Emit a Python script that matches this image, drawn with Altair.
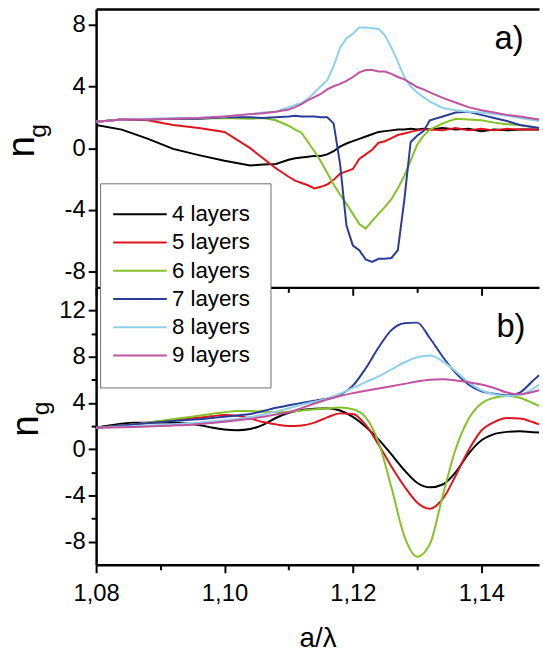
import altair as alt
import pandas as pd

series_names = ["4 layers", "5 layers", "6 layers", "7 layers", "8 layers", "9 layers"]
series_colors = ["#000000", "#e0141e", "#84c225", "#2b3c98", "#8fd0ea", "#c2529f"]
panel_labels = ["a)", "b)"]
y_title = ["n", "g"]
x_title = "a/λ"

# ---------- panel a ----------
xa = [1.080, 1.084, 1.088, 1.092, 1.096, 1.100, 1.104, 1.106, 1.108, 1.110,
      1.111, 1.112, 1.113, 1.114, 1.115, 1.116, 1.117, 1.118, 1.119, 1.120,
      1.121, 1.122, 1.123, 1.124, 1.125, 1.126, 1.127, 1.128, 1.129, 1.130,
      1.131, 1.132, 1.134, 1.136, 1.138, 1.140, 1.142, 1.144, 1.146, 1.149]
a_4 = [1.5, 1.2, 0.62, -0.05, -0.45, -0.82, -1.12, -1.05, -1.02, -0.75,
       -0.65, -0.6, -0.55, -0.5, -0.5, -0.4, -0.2, 0.1, 0.3, 0.45,
       0.6, 0.75, 0.9, 1.05, 1.1, 1.15, 1.2, 1.2, 1.25, 1.2,
       1.25, 1.2, 1.3, 1.2, 1.25, 1.1, 1.2, 1.15, 1.2, 1.2]
a_5 = [1.7, 1.85, 1.8, 1.5, 1.3, 1.05, 0.0, -0.65, -1.3, -1.85,
       -2.1, -2.25, -2.4, -2.6, -2.5, -2.35, -2.05, -1.65, -1.5, -1.35,
       -0.7, -0.4, -0.1, 0.35, 0.45, 0.65, 0.85, 0.95, 1.05, 1.15,
       1.2, 1.2, 1.15, 1.3, 1.15, 1.25, 1.15, 1.25, 1.2, 1.2]
a_6 = [1.7, 1.85, 1.85, 1.9, 1.9, 1.95, 1.9, 1.95, 1.8, 1.45,
       1.2, 1.0, 0.4, -0.2, -0.85, -1.6, -2.35, -3.0, -3.6, -4.25,
       -4.9, -5.2, -4.7, -4.25, -3.8, -3.3, -2.6, -1.8, -0.8, 0.2,
       0.8, 1.2, 1.6, 1.9, 1.85, 1.8, 1.65, 1.55, 1.5, 1.3]
a_7 = [1.7, 1.85, 1.85, 1.9, 1.9, 2.0, 2.0, 1.95, 2.0, 2.05,
       2.1, 2.05, 2.05, 2.05, 2.0, 2.0, 1.6, -1.0, -5.0, -6.3,
       -6.6, -7.2, -7.35, -7.15, -7.15, -7.1, -6.6, -3.4, 0.4, 0.8,
       1.1, 1.8, 2.05, 2.3, 2.35, 2.15, 1.95, 1.75, 1.5, 1.3]
a_8 = [1.7, 1.85, 1.9, 1.95, 1.95, 2.05, 2.2, 2.3, 2.35, 2.65,
       2.8, 2.9, 3.2, 3.6, 4.0, 4.4, 5.3, 6.5, 7.1, 7.4,
       7.8, 7.8, 7.75, 7.7, 7.3, 6.5, 5.6, 4.6, 4.0, 3.6,
       3.3, 3.0, 2.6, 2.45, 2.35, 2.3, 2.2, 2.1, 1.95, 1.75]
a_9 = [1.7, 1.85, 1.85, 1.9, 1.95, 2.05, 2.2, 2.25, 2.35, 2.5,
       2.65, 2.85, 3.1, 3.3, 3.5, 3.8, 4.0, 4.15, 4.35, 4.6,
       4.9, 5.05, 5.05, 4.95, 4.95, 4.8, 4.6, 4.45, 4.2, 3.95,
       3.8, 3.6, 3.25, 2.95, 2.65, 2.45, 2.3, 2.15, 2.05, 1.85]

# ---------- panel b ----------
xb = [1.080, 1.082, 1.084, 1.086, 1.088, 1.090, 1.092, 1.094, 1.096, 1.098,
      1.100, 1.102, 1.104, 1.106, 1.108, 1.110, 1.112, 1.114, 1.116, 1.118,
      1.120, 1.122, 1.124, 1.126, 1.128, 1.130, 1.132, 1.134, 1.136, 1.138,
      1.140, 1.142, 1.144, 1.146, 1.148, 1.149]
b_4 = [1.86, 2.05, 2.2, 2.28, 2.3, 2.3, 2.28, 2.22, 2.1, 1.88,
       1.7, 1.65, 1.75, 2.1, 2.7, 3.15, 3.4, 3.5, 3.55, 3.35,
       2.8, 1.95, 0.85, -0.45, -1.8, -2.9, -3.3, -3.05, -2.0, -0.4,
       0.75, 1.3, 1.5, 1.55, 1.47, 1.45]
b_5 = [1.86, 1.95, 2.05, 2.15, 2.3, 2.42, 2.52, 2.62, 2.72, 2.85,
       2.95, 2.9, 2.65, 2.35, 2.15, 2.0, 2.05, 2.3, 2.75, 3.1,
       3.05, 2.1, 0.4, -1.5, -3.2, -4.6, -5.15, -4.3, -2.3, -0.1,
       1.6, 2.35, 2.7, 2.65, 2.35, 2.15]
b_6 = [1.86, 1.95, 2.05, 2.15, 2.3, 2.45, 2.6, 2.75, 2.9, 3.05,
       3.2, 3.3, 3.3, 3.25, 3.2, 3.25, 3.35, 3.45, 3.55, 3.6,
       3.45, 2.75, 0.6, -3.3, -7.5, -9.3, -8.2, -4.0, 0.0, 2.6,
       3.95, 4.45, 4.6, 4.45, 4.0, 3.75]
b_7 = [1.86, 1.95, 2.05, 2.15, 2.25, 2.35, 2.45, 2.52, 2.6, 2.7,
       2.8, 2.92, 3.05, 3.3, 3.58, 3.8, 4.0, 4.2, 4.4, 4.7,
       5.5, 7.0, 8.8, 10.3, 10.9, 10.95, 9.6, 8.0, 6.6, 5.6,
       5.0, 4.8, 4.65, 4.9, 5.9, 6.4]
b_8 = [1.86, 1.9, 1.95, 2.0, 2.05, 2.1, 2.15, 2.22, 2.3, 2.4,
       2.5, 2.62, 2.78, 3.0, 3.25, 3.55, 3.85, 4.1, 4.4, 4.8,
       5.3, 5.8, 6.3, 6.9, 7.5, 7.95, 8.1, 7.6, 6.75, 5.8,
       5.1, 4.75, 4.6, 4.7, 5.2, 5.6]
b_9 = [1.86, 1.88, 1.9, 1.93, 1.96, 2.0, 2.05, 2.1, 2.18, 2.27,
       2.38, 2.5, 2.63, 2.8, 3.0, 3.2, 3.55, 3.95, 4.3, 4.6,
       4.85, 5.05, 5.25, 5.45, 5.65, 5.85, 6.0, 6.05, 5.95, 5.8,
       5.6, 5.3, 4.9, 4.75, 4.95, 5.1]

x_tick_values = [1.08, 1.09, 1.10, 1.11, 1.12, 1.13, 1.14]
ya_tick_values = [-8, -6, -4, -2, 0, 2, 4, 6, 8]
yb_tick_values = [-8, -6, -4, -2, 0, 2, 4, 6, 8, 10, 12]


def long_df(xs, lists):
    rows = []
    for name, ys in zip(series_names, lists):
        for x, y in zip(xs, ys):
            rows.append({"x": x, "y": y, "series": name})
    return pd.DataFrame(rows)


df_a = long_df(xa, [a_4, a_5, a_6, a_7, a_8, a_9])
df_b = long_df(xb, [b_4, b_5, b_6, b_7, b_8, b_9])

FONT = "Liberation Sans"
W = 447
HA = 281
HB = 280

xscale = alt.Scale(domain=[1.08, 1.149], nice=False, zero=False)
color = alt.Color(
    "series:N",
    title=None,
    scale=alt.Scale(domain=series_names, range=series_colors),
    legend=alt.Legend(
        orient="none", legendX=4, legendY=176,
        symbolType="M-4,0H8", symbolSize=81, symbolStrokeWidth=2,
        labelFontSize=22.5, labelFont=FONT, labelColor="black",
        labelOffset=30, rowPadding=5.5, padding=20,
        strokeColor="#707070", fillColor="white",
    ),
)

x_tick_size = {"condition": {"test": "round(datum.value*100) % 2 === 0", "value": 8}, "value": 5}
y_tick_size = {"condition": {"test": "datum.value % 4 === 0", "value": 8}, "value": 5}
y_label_expr = "datum.value % 4 === 0 ? '' + datum.value : ''"

common_axis = dict(domainColor="black", domainWidth=2.5, tickColor="black", tickWidth=2,
                   labelColor="black", labelFont=FONT, labelFontSize=24, grid=False)

y_axis_a = alt.Axis(values=ya_tick_values, labelExpr=y_label_expr, tickSize=y_tick_size,
                    labelPadding=3, labelOverlap=False, labelFlush=False, title=None, **common_axis)
y_axis_b = alt.Axis(values=yb_tick_values, labelExpr=y_label_expr, tickSize=y_tick_size,
                    labelPadding=3, labelOverlap=False, labelFlush=False, title=None, **common_axis)

x_axis_a = alt.Axis(values=x_tick_values, labels=False, tickSize=x_tick_size, title=None, **common_axis)
x_axis_b = alt.Axis(
    values=x_tick_values, tickSize=x_tick_size, labelOverlap=False, labelFlush=False,
    labelExpr="round(datum.value*100) % 2 === 0 ? replace(format(datum.value, '.2f'), '.', ',') : ''",
    labelPadding=9, title=x_title, titleFont=FONT, titleFontSize=28, titleFontWeight="normal",
    titleColor="black", titlePadding=19, **common_axis)
x_axis_top = alt.Axis(orient="top", labels=False, ticks=False, title=None, domainColor="black",
                      domainWidth=2.5, grid=False)

lines_a = alt.Chart(df_a).mark_line(strokeWidth=2, interpolate="linear").encode(
    x=alt.X("x:Q", scale=xscale, axis=x_axis_a),
    y=alt.Y("y:Q", scale=alt.Scale(domain=[-9, 9], nice=False, zero=False), axis=y_axis_a),
    color=color,
    order=alt.Order("x:Q"),
)
top_a = alt.Chart(df_a).mark_point(opacity=0).encode(
    x=alt.X("x:Q", scale=xscale, axis=x_axis_top),
    y=alt.Y("y:Q"),
)

lab_df_a = pd.DataFrame({"t": [panel_labels[0]]})
lab_a = alt.Chart(lab_df_a).mark_text(font=FONT, fontSize=33, align="left", baseline="alphabetic",
                                       color="black").encode(
    text="t:N", x=alt.value(402), y=alt.value(40))

n_df = pd.DataFrame({"t": [y_title[0]]})
g_df = pd.DataFrame({"t": [y_title[1]]})


def ytitle(dx_n, dy_n, dx_g, dy_g):
    n = alt.Chart(n_df).mark_text(font=FONT, fontSize=39, angle=270, align="center",
                                  baseline="alphabetic", color="black").encode(
        text="t:N", x=alt.value(dx_n), y=alt.value(dy_n))
    g = alt.Chart(g_df).mark_text(font=FONT, fontSize=25, angle=270, align="center",
                                  baseline="alphabetic", color="black").encode(
        text="t:N", x=alt.value(dx_g), y=alt.value(dy_g))
    return n + g


panel_a = alt.layer(lines_a, top_a, lab_a, ytitle(-63, 139, -51, 123)).resolve_axis(
    x="independent").properties(width=W, height=HA)

lines_b = alt.Chart(df_b).mark_line(strokeWidth=2, interpolate="monotone").encode(
    x=alt.X("x:Q", scale=xscale, axis=x_axis_b),
    y=alt.Y("y:Q", scale=alt.Scale(domain=[-10, 14], nice=False, zero=False), axis=y_axis_b),
    color=color,
    order=alt.Order("x:Q"),
)
lab_df_b = pd.DataFrame({"t": [panel_labels[1]]})
lab_b = alt.Chart(lab_df_b).mark_text(font=FONT, fontSize=33, align="left", baseline="alphabetic",
                                       color="black").encode(
    text="t:N", x=alt.value(404), y=alt.value(50))

panel_b = alt.layer(lines_b, lab_b, ytitle(-59, 140, -48, 122)).properties(width=W, height=HB)

chart = alt.vconcat(panel_a, panel_b, spacing=0, bounds="flush").properties(
    padding={"left": 3, "top": 6, "right": 0, "bottom": 0},
    background="white",
).configure_view(stroke=None)

chart.save("out.html", embed_options={"renderer": "svg", "actions": False})
